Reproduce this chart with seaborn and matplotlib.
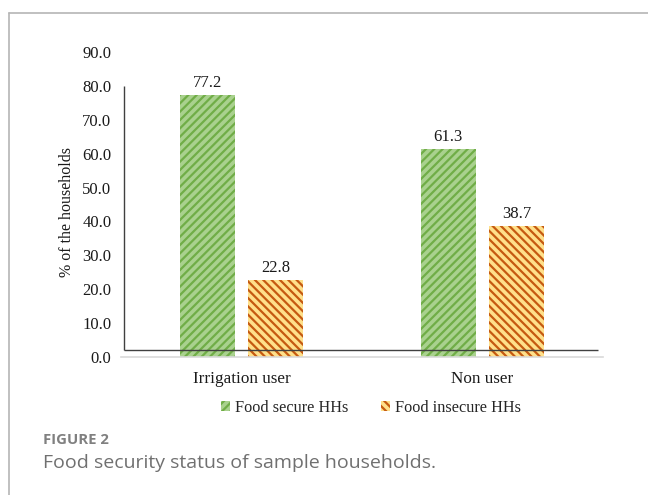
import matplotlib
matplotlib.use("Agg")
import matplotlib.pyplot as plt
from matplotlib.lines import Line2D
from matplotlib.patches import Patch
import seaborn as sns
import pandas as pd

# Share of households by food security status
groups = ["Irrigation user", "Non user"]
statuses = ["Food secure HHs", "Food insecure HHs"]
food_secure = [77.2, 61.3]
food_insecure = [22.8, 38.7]
y_ticks = [0, 10, 20, 30, 40, 50, 60, 70, 80, 90]

fill_colors = ["#a9d18e", "#ffe08a"]
stripe_colors = ["#70ad47", "#c55a11"]
hatches = ["////", "\\\\\\\\"]

df = pd.DataFrame({
    "group": groups * 2,
    "status": [statuses[0]] * 2 + [statuses[1]] * 2,
    "pct": food_secure + food_insecure,
})

sns.set_style("white")
plt.rcParams["font.family"] = ["Liberation Serif", "DejaVu Serif"]
plt.rcParams["hatch.linewidth"] = 1.6

fig = plt.figure(figsize=(6.48, 4.95), dpi=100)
ax = fig.add_axes([121 / 648, 1 - 357 / 495, 482 / 648, 305 / 495])

sns.barplot(data=df, x="group", y="pct", hue="status", order=groups,
            hue_order=statuses, palette=fill_colors, width=0.57, gap=0.2,
            ax=ax, legend=False, saturation=1)

for cont, hc, ht in zip(ax.containers, stripe_colors, hatches):
    for bar in cont:
        bar.set_hatch(ht)
        bar.set_edgecolor(hc)
        bar.set_linewidth(0)
    ax.bar_label(cont, fmt="%.1f", padding=3, fontsize=12, color="#1a1a1a")

ax.set_xlim(-0.5, 1.5)
ax.set_ylim(0, 90)
ax.set_yticks(y_ticks)
ax.set_yticklabels([f"{v:.1f}" for v in y_ticks])
ax.tick_params(axis="y", length=0, pad=7, labelsize=12, labelcolor="#1a1a1a")
ax.tick_params(axis="x", length=0, pad=10, labelsize=12.3, labelcolor="#1a1a1a")
ax.set_xlabel("")
ax.set_ylabel("% of the households", fontsize=11.5, color="#1a1a1a")
ax.yaxis.set_label_coords(-0.095, 0.475)

for side in ["top", "right", "left"]:
    ax.spines[side].set_visible(False)
ax.spines["bottom"].set_color("#d9d9d9")
ax.spines["bottom"].set_linewidth(1.2)

# Inner axis frame lines
ax.hlines(2.0, -0.4876, 1.479, color="#404040", linewidth=1.0, zorder=5)
ax.vlines(-0.4876, 2.0, 80.0, color="#404040", linewidth=1.0, zorder=5)

handles = [Patch(facecolor=fc, edgecolor=hc, hatch=ht, linewidth=0)
           for fc, hc, ht in zip(fill_colors, stripe_colors, hatches)]
fig.legend(handles, statuses, loc="center", bbox_to_anchor=(371 / 648, 1 - 408 / 495),
           ncol=2, frameon=False, fontsize=11.7, handlelength=0.55, handleheight=0.55,
           handletextpad=0.3, columnspacing=2.0)

# Page frame
fig.add_artist(Line2D([9 / 648, 9 / 648], [0, 1 - 13 / 495],
                      transform=fig.transFigure, color="#b5b5b5", linewidth=1.2))
fig.add_artist(Line2D([9 / 648, 1], [1 - 13 / 495, 1 - 13 / 495],
                      transform=fig.transFigure, color="#b5b5b5", linewidth=1.2))

fig.text(43 / 648, 1 - 440 / 495, "FIGURE 2", family=["Open Sans", "DejaVu Sans"],
         fontsize=10.7, fontweight="bold", color="#808080", va="center", ha="left")
fig.text(43 / 648, 1 - 463 / 495, "Food security status of sample households.",
         family=["Open Sans", "DejaVu Sans"], fontsize=14, color="#707070",
         va="center", ha="left")

fig.savefig("out.png", dpi=100)
